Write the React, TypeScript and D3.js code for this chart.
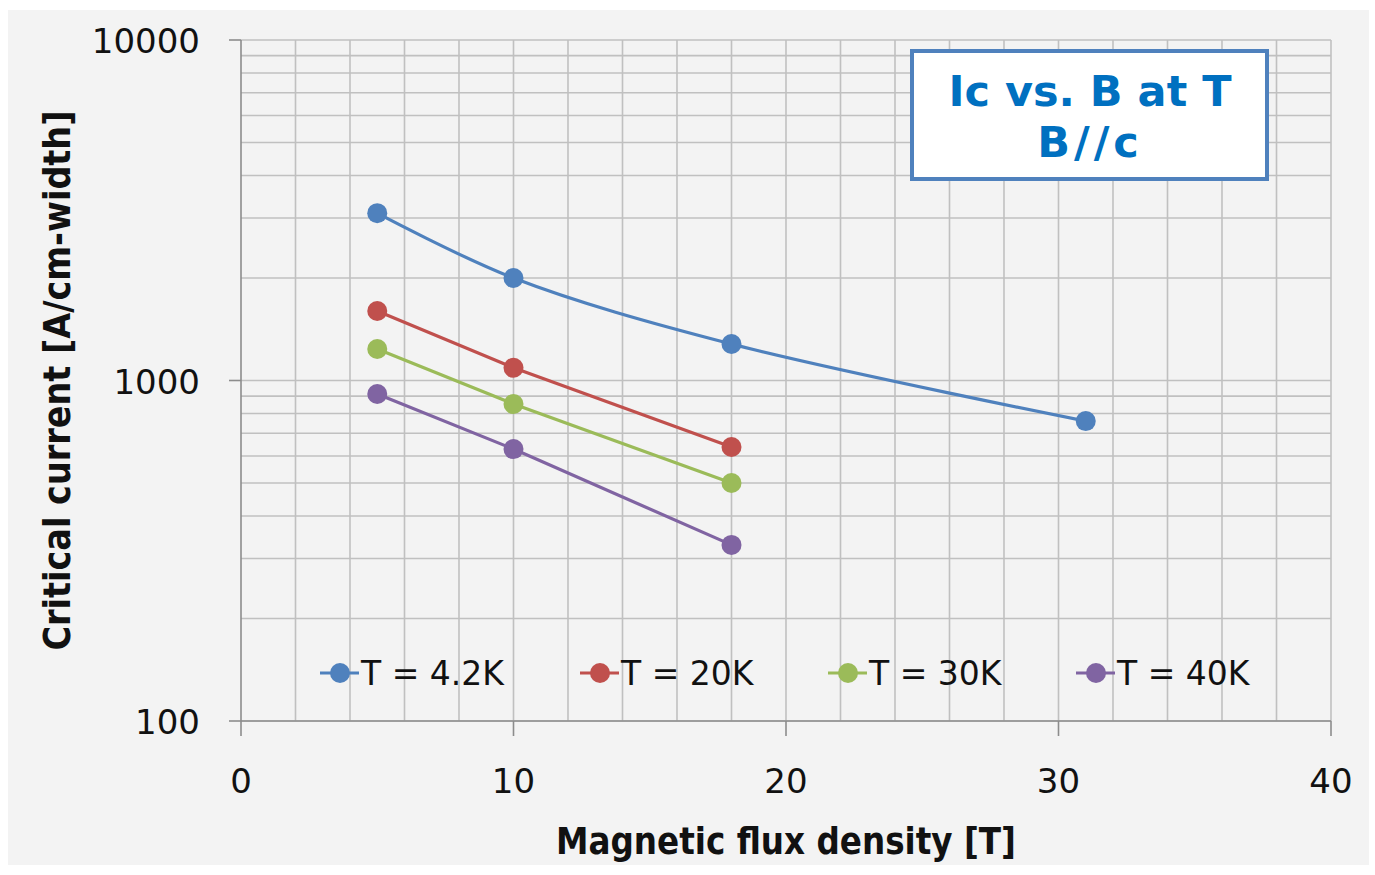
import { useEffect, useRef } from "react";
import * as d3 from "d3";

// magnetic flux density [T]
const fieldT = [5, 10, 18, 31];
const series = ["T = 4.2K", "T = 20K", "T = 30K", "T = 40K"];
const ic42 = [3100, 2000, 1280, 760];
const ic20 = [1600, 1090, 638];
const ic30 = [1237, 853, 500];
const ic40 = [913, 629, 329];
const colors = ["#4f81bd", "#c0504d", "#9bbb59", "#8064a2"];
const xTicks = [0, 10, 20, 30, 40];
const yTicks = [100, 1000, 10000];
const titleLines = ["Ic vs. B at T", "B//c"];

const W = 1375, H = 875;
const M = { left: 241, right: 1331, top: 40, bottom: 721 };

const App = () => {
  const svgRef = useRef<SVGSVGElement>(null);

  useEffect(() => {
    const svg = d3.select(svgRef.current);
    svg.selectAll("*").remove();

    const x = d3.scaleLinear().domain([0, 40]).range([M.left, M.right]);
    const y = d3.scaleLog().domain([100, 10000]).range([M.bottom, M.top]);

    svg.append("rect").attr("x", 8).attr("y", 10).attr("width", 1361).attr("height", 855).attr("fill", "#f3f3f3");

    const grid = svg.append("g").attr("stroke", "#c0c0c0").attr("stroke-width", 1.6);
    grid.selectAll("line.h")
      .data(y.ticks())
      .join("line")
      .attr("class", "h")
      .attr("x1", M.left).attr("x2", M.right)
      .attr("y1", d => y(d)).attr("y2", d => y(d));
    grid.selectAll("line.v")
      .data(d3.range(2, 41, 2))
      .join("line")
      .attr("class", "v")
      .attr("y1", M.top).attr("y2", M.bottom)
      .attr("x1", d => x(d)).attr("x2", d => x(d));

    // axes
    const axis = svg.append("g").attr("stroke", "#8c8c8c").attr("stroke-width", 1.6);
    axis.append("line").attr("x1", M.left).attr("x2", M.left).attr("y1", M.top).attr("y2", M.bottom);
    axis.append("line").attr("x1", M.left).attr("x2", M.right).attr("y1", M.bottom).attr("y2", M.bottom);
    axis.selectAll("line.yt").data(yTicks).join("line").attr("class", "yt")
      .attr("x1", M.left - 12).attr("x2", M.left).attr("y1", d => y(d)).attr("y2", d => y(d));
    axis.selectAll("line.xt").data(xTicks).join("line").attr("class", "xt")
      .attr("x1", d => x(d)).attr("x2", d => x(d)).attr("y1", M.bottom).attr("y2", M.bottom + 15);

    const tickFont = "'DejaVu Sans', Verdana, sans-serif";
    svg.append("g").selectAll("text").data(yTicks).join("text")
      .attr("x", 200).attr("y", d => y(d) + 13)
      .attr("text-anchor", "end").attr("font-family", tickFont).attr("font-size", 34).attr("fill", "#111")
      .text(d => d);
    svg.append("g").selectAll("text").data(xTicks).join("text")
      .attr("x", d => x(d)).attr("y", 793)
      .attr("text-anchor", "middle").attr("font-family", tickFont).attr("font-size", 34).attr("fill", "#111")
      .text(d => d);

    const titleFont = "'DejaVu Sans Condensed', 'Liberation Sans', sans-serif";
    svg.append("text")
      .attr("x", 786).attr("y", 854)
      .attr("text-anchor", "middle").attr("font-family", titleFont).attr("font-weight", "bold")
      .attr("font-size", 38).attr("fill", "#111")
      .attr("textLength", 460).attr("lengthAdjust", "spacingAndGlyphs")
      .text("Magnetic flux density [T]");
    svg.append("text")
      .attr("transform", `translate(70, ${(M.top + M.bottom) / 2}) rotate(-90)`)
      .attr("text-anchor", "middle").attr("font-family", titleFont).attr("font-weight", "bold")
      .attr("font-size", 38).attr("fill", "#111")
      .attr("textLength", 540).attr("lengthAdjust", "spacingAndGlyphs")
      .text("Critical current [A/cm-width]");

    // series
    const allValues = [ic42, ic20, ic30, ic40];
    allValues.forEach((vals, i) => {
      const pts = vals.map((v, j) => [fieldT[j], v] as [number, number]);
      const line = d3.line<[number, number]>()
        .x(d => x(d[0])).y(d => y(d[1]))
        .curve(i === 0 ? d3.curveCatmullRom.alpha(0.5) : d3.curveLinear);
      svg.append("path").datum(pts).attr("d", line)
        .attr("fill", "none").attr("stroke", colors[i]).attr("stroke-width", 3.2);
      svg.append("g").selectAll("circle").data(pts).join("circle")
        .attr("cx", d => x(d[0])).attr("cy", d => y(d[1])).attr("r", 10).attr("fill", colors[i]);
    });

    // legend
    const legendX = [320, 580, 828, 1076];
    const lg = svg.append("g");
    series.forEach((name, i) => {
      const g = lg.append("g").attr("transform", `translate(${legendX[i]}, 673)`);
      g.append("line").attr("x1", 0).attr("x2", 39).attr("stroke", colors[i]).attr("stroke-width", 3);
      g.append("circle").attr("cx", 20).attr("r", 10).attr("fill", colors[i]);
      g.append("text").attr("x", 41).attr("y", 12).attr("font-family", tickFont)
        .attr("font-size", 33).attr("fill", "#111").text(name);
    });

    // title box
    const tb = svg.append("g");
    tb.append("rect").attr("x", 912).attr("y", 51).attr("width", 355).attr("height", 128)
      .attr("fill", "#fff").attr("stroke", "#4f81bd").attr("stroke-width", 4);
    titleLines.forEach((t, i) => {
      tb.append("text").attr("x", 1090).attr("y", 106 + i * 51)
        .attr("text-anchor", "middle").attr("font-family", "'DejaVu Sans', Verdana, sans-serif")
        .attr("font-weight", "bold").attr("font-size", 43).attr("fill", "#0070c0")
        .attr("letter-spacing", i === 1 ? 4 : 0).text(t);
    });
  }, []);

  return (
    <svg ref={svgRef} width={W} height={H} style={{ position: "absolute", left: 0, top: 0, background: "#fff" }} />
  );
};

export default App;
